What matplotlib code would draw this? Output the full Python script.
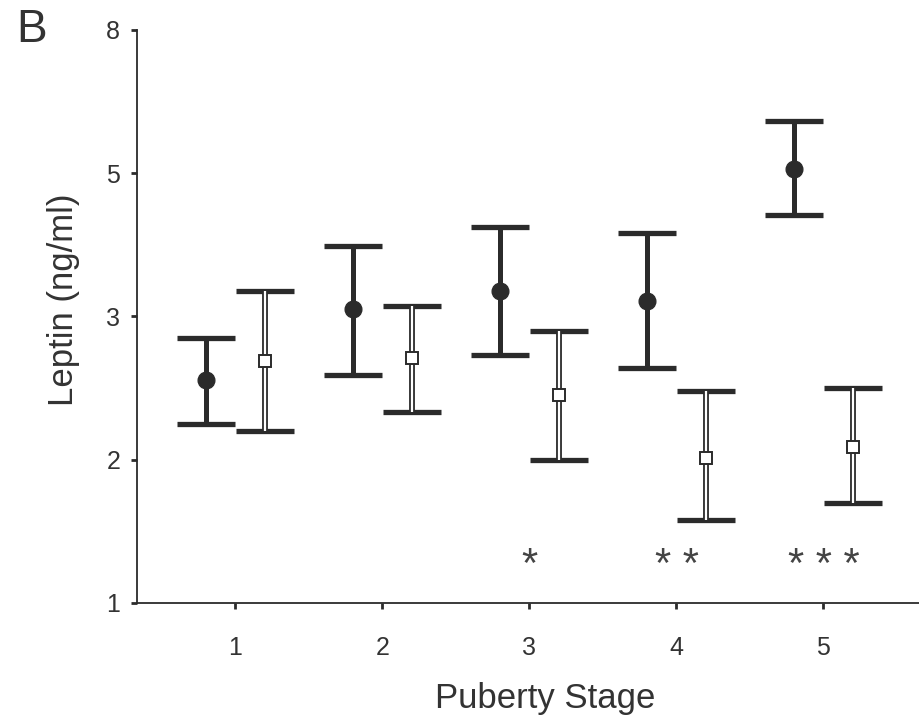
import numpy as np
import matplotlib.pyplot as plt

plt.rcParams['font.family'] = ['Liberation Sans', 'DejaVu Sans']

# Puberty stages
stages = [1, 2, 3, 4, 5]

# filled circles
filled_mean = [2.56, 3.10, 3.35, 3.22, 5.08]
filled_low = [2.25, 2.59, 2.73, 2.64, 4.42]
filled_high = [2.85, 3.99, 4.25, 4.17, 6.09]

# open squares
open_mean = [2.69, 2.71, 2.45, 2.01, 2.09]
open_low = [2.20, 2.33, 2.00, 1.58, 1.70]
open_high = [3.35, 3.14, 2.90, 2.48, 2.50]

stars = ['', '', '*', '* *', '* * *']

yticks = [1, 2, 3, 5, 8]
ink = '#2b2b2b'

# the y axis in the original puts 1, 2, 3, 5, 8 at equal spacing
tick_pos = np.arange(len(yticks), dtype=float)


def fwd(v):
    return np.interp(v, yticks, tick_pos, left=np.nan, right=np.nan)


def inv(p):
    return np.interp(p, tick_pos, yticks)


fig = plt.figure(figsize=(9.19, 7.21), dpi=100)
ax = fig.add_axes([0.149, 0.1637, 0.851, 0.7947])
ax.set_yscale('function', functions=(fwd, inv))

x = np.array(stages, dtype=float)
off = 0.2

fm = np.array(filled_mean)
ax.errorbar(x - off, fm, yerr=[fm - np.array(filled_low), np.array(filled_high) - fm],
            fmt='o', color=ink, ms=12, elinewidth=3.6, capsize=21, capthick=3.8, zorder=3)

om = np.array(open_mean)
ax.errorbar(x + off, om, yerr=[om - np.array(open_low), np.array(open_high) - om],
            fmt='none', ecolor=ink, elinewidth=4.2, capsize=21, capthick=3.8, zorder=3)
ax.vlines(x + off, open_low, open_high, color='white', lw=1.6, zorder=4)
ax.plot(x + off, om, 's', ms=8, mfc='white', mec=ink, mew=1.4, zorder=5)

for xs, s in zip(x, stars):
    if s:
        ax.text(xs, 1.26, s, ha='center', va='center', fontsize=30, color='#444444')

ax.set_xlim(0.33, 5.65)
ax.set_ylim(1, 8)
ax.set_xticks(stages)
ax.set_yticks(yticks)
ax.set_yticklabels([str(t) for t in yticks])
ax.minorticks_off()

for side in ['top', 'right']:
    ax.spines[side].set_visible(False)
for side in ['left', 'bottom']:
    ax.spines[side].set_color(ink)
    ax.spines[side].set_linewidth(1.3)
ax.tick_params(colors=ink, labelcolor='#333333', labelsize=18, length=4, width=2)
ax.tick_params(axis='x', pad=20)
ax.tick_params(axis='y', pad=8)

ax.set_xlabel('Puberty Stage', fontsize=25, color='#333333')
ax.set_ylabel('Leptin (ng/ml)', fontsize=25, color='#333333')
ax.xaxis.set_label_coords(0.522, -0.138)
ax.yaxis.set_label_coords(-0.073, 0.529)

fig.text(0.018, 0.958, 'B', fontsize=33, color='#333333', va='center')

fig.savefig('out.png', dpi=100)
